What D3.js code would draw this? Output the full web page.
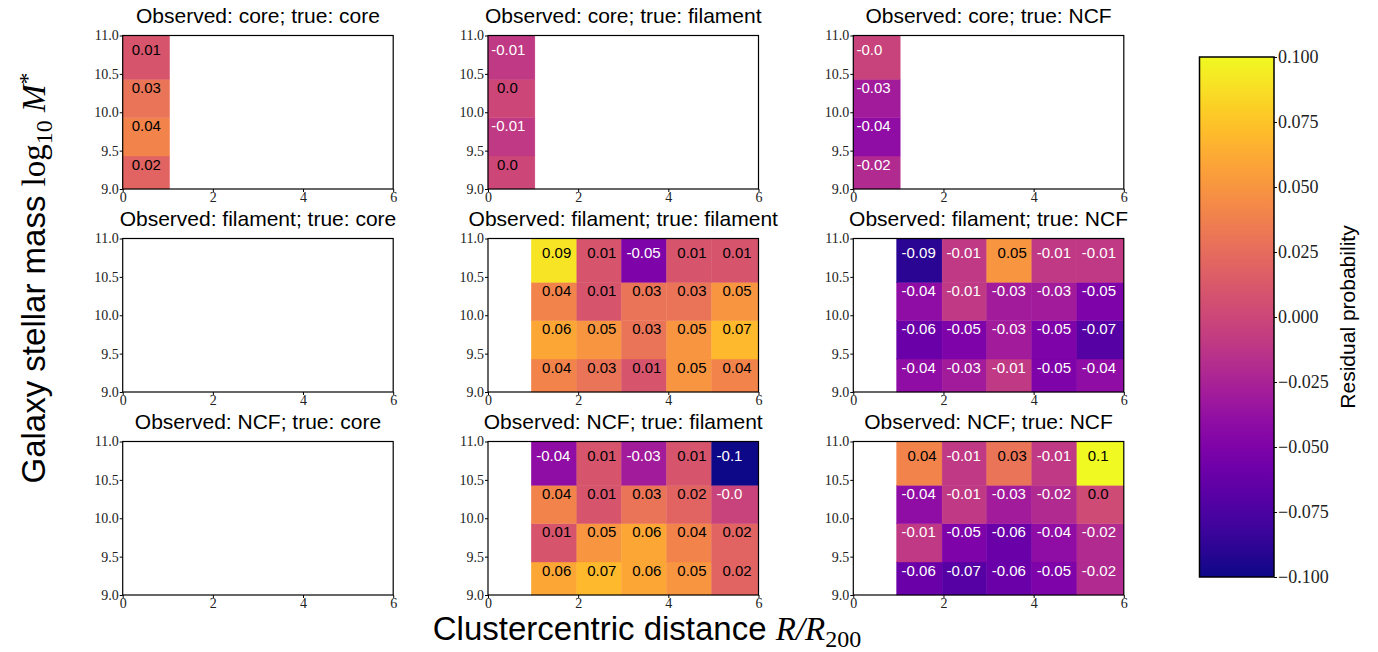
<!DOCTYPE html>
<html>
<head>
<meta charset="utf-8">
<script src="https://cdn.jsdelivr.net/npm/d3@7"></script>
<style>
  body { margin: 0; background: #fff; }
  .sans { font-family: "Liberation Sans", Arial, sans-serif; }
  .serif { font-family: "Liberation Serif", "Times New Roman", serif; }
  .panelAxis text { font-family: "Liberation Serif", serif; font-size: 14px; fill: #222; }
  .cbAxis text { font-family: "Liberation Serif", serif; font-size: 18px; fill: #222; }
</style>
</head>
<body>
<div id="chart"></div>
<script>
// ---- data ----
var classNames = ["core", "filament", "NCF"];
var massEdges = [9.0, 9.43, 9.93, 10.43, 11.0];
var coreEdges = [0, 1.04];
var outerEdges = [0.96, 1.97, 2.96, 3.96, 4.96, 6.0];
var massTicks = [9.0, 9.5, 10.0, 10.5, 11.0];
var distTicks = [0, 2, 4, 6];
var cbTicks = [-0.1, -0.075, -0.05, -0.025, 0, 0.025, 0.05, 0.075, 0.1];

// residual probabilities, one row per mass bin (lowest mass first)
var obsCoreTrueCore = [[0.02], [0.04], [0.03], [0.01]];
var obsCoreTrueFil = [[0.0], [-0.01], [0.0], [-0.01]];
var obsCoreTrueNCF = [[-0.02], [-0.04], [-0.03], [-0.003]];
var obsFilTrueFil = [
    [0.04, 0.03, 0.01, 0.05, 0.04],
    [0.06, 0.05, 0.03, 0.05, 0.07],
    [0.04, 0.01, 0.03, 0.03, 0.05],
    [0.09, 0.01, -0.05, 0.01, 0.01]
];
var obsFilTrueNCF = [
    [-0.04, -0.03, -0.01, -0.05, -0.04],
    [-0.06, -0.05, -0.03, -0.05, -0.07],
    [-0.04, -0.01, -0.03, -0.03, -0.05],
    [-0.09, -0.01, 0.05, -0.01, -0.01]
];
var obsNCFTrueFil = [
    [0.06, 0.07, 0.06, 0.05, 0.02],
    [0.01, 0.05, 0.06, 0.04, 0.02],
    [0.04, 0.01, 0.03, 0.02, -0.003],
    [-0.04, 0.01, -0.03, 0.01, -0.1]
];
var obsNCFTrueNCF = [
    [-0.06, -0.07, -0.06, -0.05, -0.02],
    [-0.01, -0.05, -0.06, -0.04, -0.02],
    [-0.04, -0.01, -0.03, -0.02, 0.003],
    [0.04, -0.01, 0.03, -0.01, 0.1]
];

// rows: observed class, columns: true class
var residuals = [
    [obsCoreTrueCore, obsCoreTrueFil, obsCoreTrueNCF],
    [null, obsFilTrueFil, obsFilTrueNCF],
    [null, obsNCFTrueFil, obsNCFTrueNCF]
];

// ---- layout ----
var svgWidth = 1378;
var svgHeight = 652;
var panelW = 270.5;
var panelH = 153.5;
var colX = [122.7, 488, 853.3];
var rowY = [35.5, 238.5, 441.5];

var svg = d3.select("#chart")
    .append("svg")
    .attr("width", svgWidth)
    .attr("height", svgHeight);

var color = d3.scaleSequential(d3.interpolatePlasma).domain([-0.1, 0.1]);

// mimic python's str(round(v, 2))
function cellLabel(v) {
    var r = Math.round(v * 100) / 100;
    if (r === 0) return v < 0 ? "-0.0" : "0.0";
    var s = String(r);
    return s.indexOf(".") < 0 ? s + ".0" : s;
}

var xScale = d3.scaleLinear().domain([0, 6]).range([0, panelW]);
var yScale = d3.scaleLinear().domain([9, 11]).range([panelH, 0]);

residuals.forEach(function (rowPanels, r) {
    rowPanels.forEach(function (values, c) {
        var g = svg.append("g")
            .attr("transform", `translate(${colX[c]}, ${rowY[r]})`);

        g.append("text")
            .attr("class", "sans")
            .attr("x", panelW / 2)
            .attr("y", -13)
            .attr("text-anchor", "middle")
            .attr("font-size", "21px")
            .text(`Observed: ${classNames[r]}; true: ${classNames[c]}`);

        if (values) {
            var edges = r === 0 ? coreEdges : outerEdges;
            var cells = [];
            values.forEach(function (row, j) {
                row.forEach(function (v, i) {
                    cells.push({ v: v, j: j, lo: edges[i], hi: edges[i + 1] });
                });
            });

            g.selectAll("rect.cell")
                .data(cells)
                .enter()
                .append("rect")
                .attr("class", "cell")
                .attr("x", d => xScale(d.lo))
                .attr("y", d => yScale(massEdges[d.j + 1]))
                .attr("width", d => xScale(d.hi) - xScale(d.lo))
                .attr("height", d => yScale(massEdges[d.j]) - yScale(massEdges[d.j + 1]))
                .attr("fill", d => color(d.v))
                .attr("stroke", d => color(d.v))
                .attr("stroke-width", 0.4);

            g.selectAll("text.cellText")
                .data(cells)
                .enter()
                .append("text")
                .attr("class", "cellText sans")
                .attr("x", d => xScale(Math.round(d.lo) + (d.v < 0 ? 0.07 : 0.2)))
                .attr("y", d => yScale(9.25 + 0.5 * d.j))
                .attr("font-size", "15px")
                .attr("fill", d => d.v < 0 ? "#fff" : "#000")
                .text(d => cellLabel(d.v));
        }

        // axes
        g.append("g")
            .attr("class", "panelAxis")
            .call(d3.axisLeft(yScale).tickValues(massTicks)
                .tickFormat(d3.format(".1f")).tickSize(3).tickSizeOuter(0).tickPadding(1))
            .call(a => a.select(".domain").remove());

        g.append("g")
            .attr("class", "panelAxis")
            .attr("transform", `translate(0, ${panelH})`)
            .call(d3.axisBottom(xScale).tickValues(distTicks)
                .tickFormat(d3.format("d")).tickSize(3).tickSizeOuter(0).tickPadding(0))
            .call(a => a.select(".domain").remove());

        g.append("rect")
            .attr("width", panelW)
            .attr("height", panelH)
            .attr("fill", "none")
            .attr("stroke", "#000")
            .attr("stroke-width", 1.2);
    });
});

// ---- colorbar ----
var cbX = 1199.5;
var cbTop = 57;
var cbW = 74.5;
var cbH = 520;

var grad = svg.append("defs")
    .append("linearGradient")
    .attr("id", "plasmaGrad")
    .attr("x1", "0").attr("y1", "1").attr("x2", "0").attr("y2", "0");
d3.range(0, 1.0001, 0.05).forEach(function (t) {
    grad.append("stop")
        .attr("offset", t)
        .attr("stop-color", d3.interpolatePlasma(t));
});

svg.append("rect")
    .attr("x", cbX)
    .attr("y", cbTop)
    .attr("width", cbW)
    .attr("height", cbH)
    .attr("fill", "url(#plasmaGrad)")
    .attr("stroke", "#000")
    .attr("stroke-width", 1.5);

var cbScale = d3.scaleLinear().domain([-0.1, 0.1]).range([cbTop + cbH, cbTop]);
svg.append("g")
    .attr("class", "cbAxis")
    .attr("transform", `translate(${cbX + cbW}, 0)`)
    .call(d3.axisRight(cbScale).tickValues(cbTicks)
        .tickFormat(d3.format(".3f")).tickSize(3).tickSizeOuter(0).tickPadding(1))
    .call(a => a.select(".domain").remove());

svg.append("text")
    .attr("class", "sans")
    .attr("transform", "translate(1355, 317) rotate(-90)")
    .attr("text-anchor", "middle")
    .attr("font-size", "21px")
    .text("Residual probability");

// ---- axis labels ----
var yLabel = svg.append("text")
    .attr("transform", "translate(45, 278) rotate(-90)")
    .attr("text-anchor", "middle")
    .attr("font-size", "33px");
yLabel.append("tspan").attr("class", "sans").text("Galaxy stellar mass ");
yLabel.append("tspan").attr("class", "serif").text("log");
yLabel.append("tspan").attr("class", "serif").attr("font-size", "24px").attr("dy", 7).text("10");
yLabel.append("tspan").attr("class", "serif").attr("font-style", "italic").attr("dy", -7).text(" M");
yLabel.append("tspan").attr("class", "serif").attr("font-size", "24px").attr("dy", -10).text("*");

var xLabel = svg.append("text")
    .attr("x", 647)
    .attr("y", 640)
    .attr("text-anchor", "middle")
    .attr("font-size", "33px");
xLabel.append("tspan").attr("class", "sans").text("Clustercentric distance ");
xLabel.append("tspan").attr("class", "serif").attr("font-style", "italic").text("R/R");
xLabel.append("tspan").attr("class", "serif").attr("font-size", "24px").attr("dy", 7).text("200");
</script>
</body>
</html>
